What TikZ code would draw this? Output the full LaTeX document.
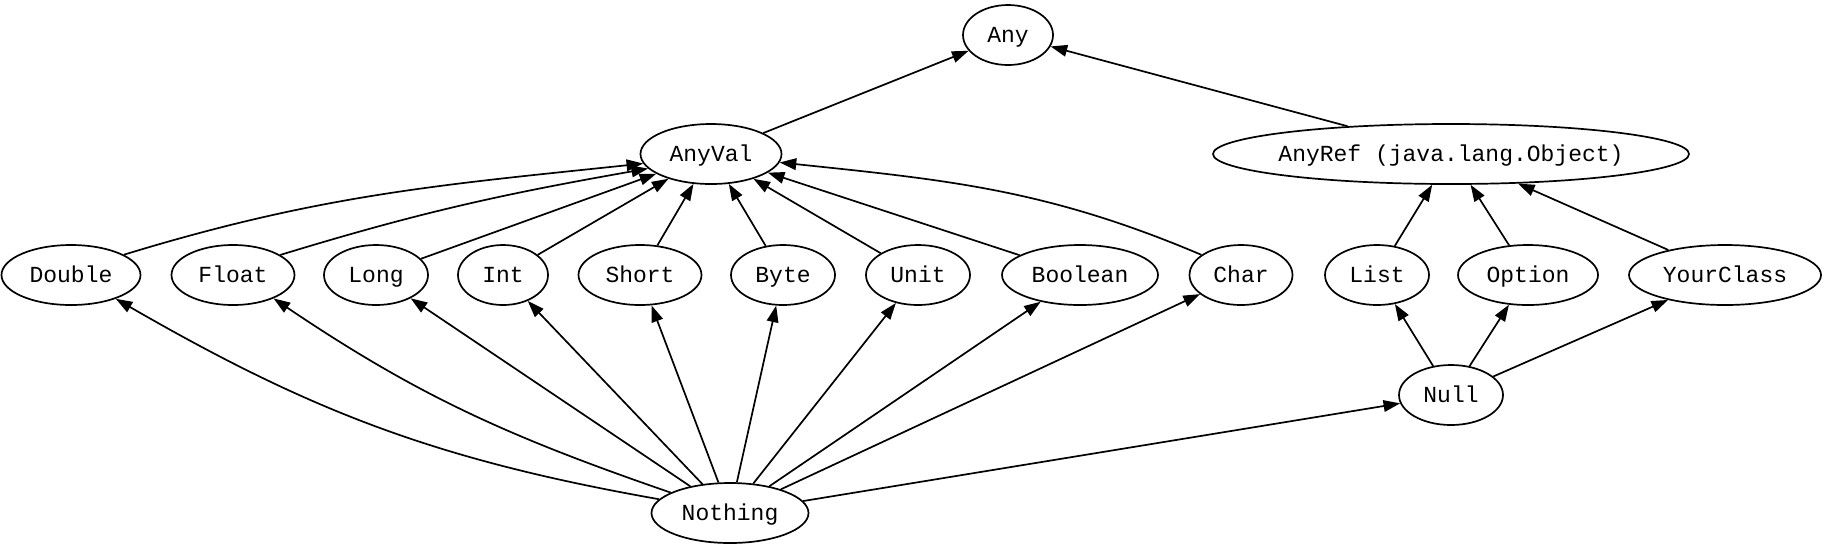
\documentclass[tikz,border=0pt]{standalone}
\usepackage{fontspec}
\setmonofont{Liberation Mono}
\usetikzlibrary{shapes.geometric,arrows.meta}
\begin{document}
\begin{tikzpicture}[x=0.5pt,y=0.5pt,
  v/.style={ellipse,draw,line width=0.85pt,inner sep=0pt,minimum height=30pt,
    font=\ttfamily\fontsize{11.5}{13}\selectfont,text height=7.6pt,text depth=0pt},
  e/.style={line width=0.85pt,-{Triangle[length=8.3pt,width=5.8pt]}}]
\useasboundingbox (0,0) rectangle (1830,-543);
% nodes
\node[v,minimum width=45pt]   (Any)       at (1008,-35)  {Any};
\node[v,minimum width=70.5pt] (AnyVal)    at (711,-154)  {AnyVal};
\node[v,minimum width=238pt]  (AnyRef)    at (1451,-154) {\makebox[0pt]{AnyRef (java.lang.Object)}};
\node[v,minimum width=69.5pt] (Double)    at (71,-275)   {Double};
\node[v,minimum width=61.5pt] (Float)     at (233,-275)  {Float};
\node[v,minimum width=52pt]   (Long)      at (376,-275)  {Long};
\node[v,minimum width=45pt]   (Int)       at (503,-275)  {Int};
\node[v,minimum width=61.5pt] (Short)     at (640,-275)  {Short};
\node[v,minimum width=52pt]   (Byte)      at (783,-275)  {Byte};
\node[v,minimum width=52pt]   (Unit)      at (918,-275)  {Unit};
\node[v,minimum width=78pt]   (Boolean)   at (1080,-275) {Boolean};
\node[v,minimum width=51.5pt] (Char)      at (1241,-275) {Char};
\node[v,minimum width=52pt]   (List)      at (1377,-275) {List};
\node[v,minimum width=70pt]   (Option)    at (1528,-275) {Option};
\node[v,minimum width=96pt]   (YourClass) at (1725,-275) {YourClass};
\node[v,minimum width=52pt]   (Null)      at (1451,-395) {Null};
\node[v,minimum width=78.5pt] (Nothing)   at (730,-513)  {Nothing};
% edges to Any
\draw[e] (AnyVal) -- (Any);
\draw[e] (AnyRef) -- (Any);
% edges to AnyVal
\draw[e] (Double.21) to[out=17,in=186] (AnyVal.188);
\draw[e] (Float.23) to[out=17,in=190] (AnyVal.193);
\draw[e] (Long) -- (AnyVal);
\draw[e] (Int) -- (AnyVal);
\draw[e] (Short) -- (AnyVal);
\draw[e] (Byte) -- (AnyVal);
\draw[e] (Unit) -- (AnyVal);
\draw[e] (Boolean) -- (AnyVal);
\draw[e] (Char.153) to[out=157,in=354] (AnyVal.353);
% edges to AnyRef
\draw[e] (List) -- (AnyRef);
\draw[e] (Option) -- (AnyRef);
\draw[e] (YourClass) -- (AnyRef);
% edges from Null
\draw[e] (Null) -- (List);
\draw[e] (Null) -- (Option);
\draw[e] (Null) -- (YourClass);
% edges from Nothing
\draw[e] (Nothing.169) to[out=170,in=330] (Double.332);
\draw[e] (Nothing.161) to[out=161,in=326] (Float.330);
\draw[e] (Nothing) -- (Long);
\draw[e] (Nothing) -- (Int);
\draw[e] (Nothing) -- (Short);
\draw[e] (Nothing) -- (Byte);
\draw[e] (Nothing) -- (Unit);
\draw[e] (Nothing) -- (Boolean);
\draw[e] (Nothing) -- (Char);
\draw[e] (Nothing) -- (Null);
\end{tikzpicture}
\end{document}
